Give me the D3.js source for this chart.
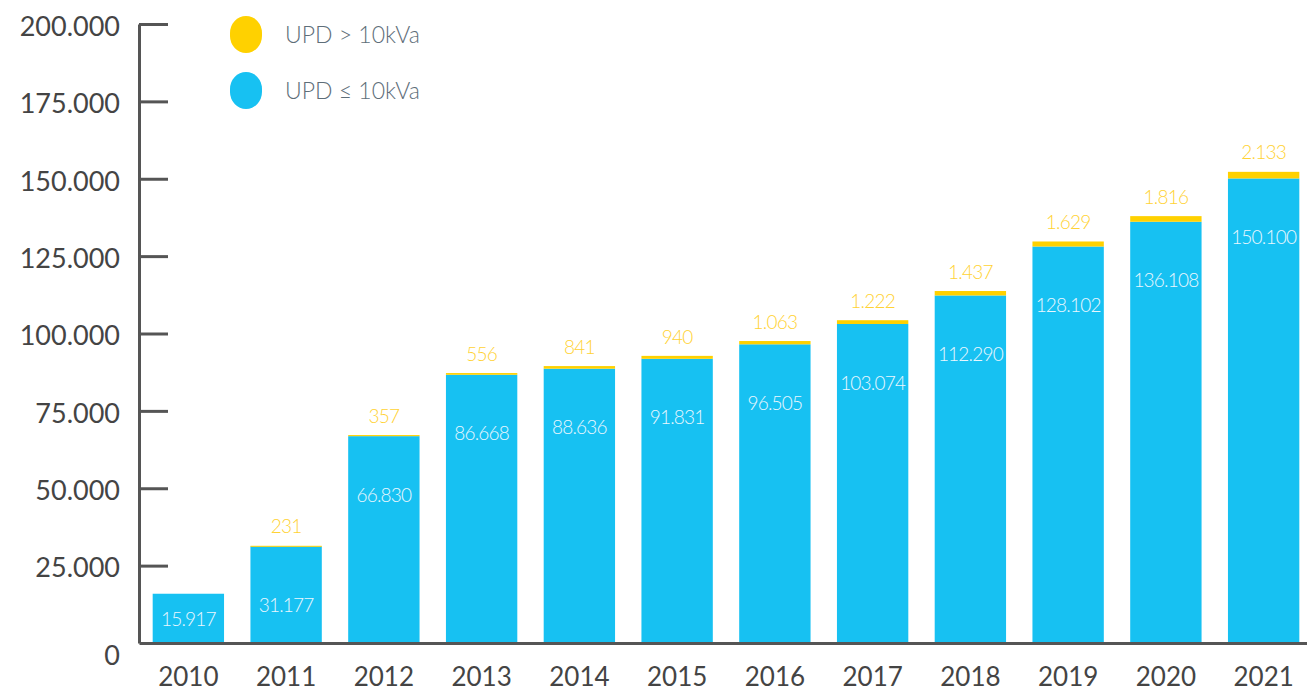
<!DOCTYPE html>
<html>
<head>
<meta charset="utf-8">
<script src="https://cdn.jsdelivr.net/npm/d3@7"></script>
<style>
  body { margin: 0; background: #fff; }
  text { font-family: Lato, "Open Sans", sans-serif; }
</style>
</head>
<body>
<div id="chart"></div>
<script>
const years = ["2010", "2011", "2012", "2013", "2014", "2015", "2016", "2017", "2018", "2019", "2020", "2021"];
const small = [15917, 31177, 66830, 86668, 88636, 91831, 96505, 103074, 112290, 128102, 136108, 150100]; // UPD <= 10kVa
const large = [0, 231, 357, 556, 841, 940, 1063, 1222, 1437, 1629, 1816, 2133];                         // UPD > 10kVa
const yTicks = [0, 25000, 50000, 75000, 100000, 125000, 150000, 175000, 200000];
const legendLabels = ["UPD > 10kVa", "UPD \u2264 10kVa"];

const blue = "#17c1f2";
const yellow = "#ffd100";
const axisColor = "#555";

const chartW = 1307, chartH = 693;
const plotLeft = 139, plotBase = 643, plotTop = 24;

const fmt = v => d3.format(",")(v).replace(/,/g, ".");

const svg = d3.select("#chart").append("svg")
    .attr("width", chartW)
    .attr("height", chartH);

const x = d3.scaleBand()
    .domain(years)
    .range([plotLeft, 1313])
    .paddingInner(0.27)
    .paddingOuter(0.14);

const y = d3.scaleLinear()
    .domain([0, 200000])
    .range([plotBase, plotTop]);

// bars
const data = years.map((yr, i) => ({ year: yr, small: small[i], large: large[i] }));

svg.append("g").selectAll("rect")
    .data(data)
    .join("rect")
    .attr("x", d => x(d.year))
    .attr("width", x.bandwidth())
    .attr("y", d => y(d.small))
    .attr("height", d => plotBase - y(d.small))
    .attr("fill", blue);

svg.append("g").selectAll("rect")
    .data(data.filter(d => d.large > 0))
    .join("rect")
    .attr("x", d => x(d.year))
    .attr("width", x.bandwidth())
    .attr("y", d => y(d.small + d.large))
    .attr("height", d => Math.max(1, y(d.small) - y(d.small + d.large)))
    .attr("fill", yellow);

// labels inside blue bars
svg.append("g").selectAll("text")
    .data(data)
    .join("text")
    .attr("x", d => x(d.year) + x.bandwidth() / 2)
    .attr("y", d => Math.min(y(d.small) + 59, plotBase - 24))
    .attr("dy", "0.35em")
    .attr("text-anchor", "middle")
    .style("font-size", "19px")
    .style("font-weight", 300)
    .style("letter-spacing", "-0.8px")
    .style("fill", "#eaf7ff")
    .text(d => fmt(d.small));

// labels above yellow segments
svg.append("g").selectAll("text")
    .data(data.filter(d => d.large > 0))
    .join("text")
    .attr("x", d => x(d.year) + x.bandwidth() / 2)
    .attr("y", d => y(d.small + d.large) - 19)
    .attr("dy", "0.35em")
    .attr("text-anchor", "middle")
    .style("font-size", "19px")
    .style("font-weight", 300)
    .style("letter-spacing", "-0.8px")
    .style("fill", "#ffd233")
    .text(d => fmt(d.large));

// y axis
const yAxis = svg.append("g")
    .attr("transform", `translate(${plotLeft},0)`)
    .call(d3.axisLeft(y)
        .tickValues(yTicks)
        .tickFormat(fmt)
        .tickSizeInner(-29)
        .tickSizeOuter(0)
        .tickPadding(19));

yAxis.select(".domain").attr("stroke", axisColor).attr("stroke-width", 3);
yAxis.selectAll(".tick line").attr("stroke", axisColor).attr("stroke-width", 3);
yAxis.selectAll(".tick text")
    .style("font-size", "27px")
    .style("font-family", "Lato, 'Open Sans', sans-serif")
    .attr("fill", "#444")
    .attr("dy", d => d === 0 ? "0.8em" : "0.42em");
yAxis.selectAll(".tick").filter(d => d === 0).select("line").remove();

// x axis
const xAxis = svg.append("g")
    .attr("transform", `translate(0,${plotBase})`)
    .call(d3.axisBottom(x).tickSize(0).tickPadding(25));

xAxis.select(".domain").attr("stroke", axisColor).attr("stroke-width", 3);
xAxis.selectAll(".tick text")
    .style("font-size", "26px")
    .style("font-family", "Lato, 'Open Sans', sans-serif")
    .attr("fill", "#444");

// legend
const legend = svg.append("g");
[yellow, blue].forEach((c, i) => {
    legend.append("rect")
        .attr("x", 230)
        .attr("y", 16 + i * 56)
        .attr("width", 32)
        .attr("height", 37)
        .attr("rx", 16)
        .attr("ry", 17)
        .attr("fill", c);
    legend.append("text")
        .attr("x", 285)
        .attr("y", 35 + i * 56)
        .attr("dy", "0.35em")
        .style("font-size", "23px")
        .style("font-weight", 300)
        .style("fill", "#5e6e79")
        .text(legendLabels[i]);
});
</script>
</body>
</html>
